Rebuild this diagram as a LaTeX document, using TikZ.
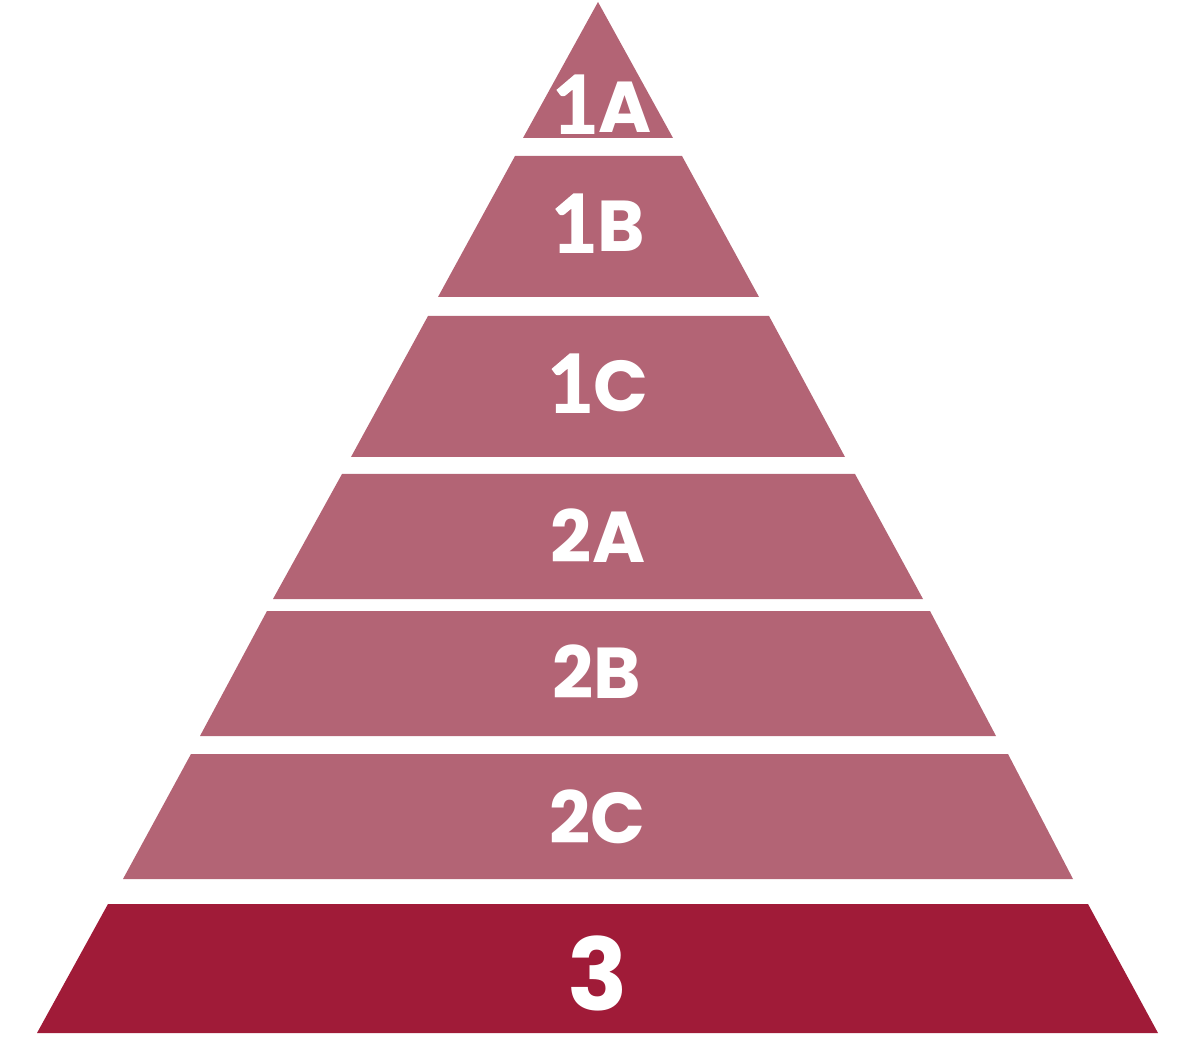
\documentclass[tikz,border=0pt]{standalone}
\usepackage{fontspec}
\setmainfont{Poppins}
\newfontfamily\onefont{Lato}[BoldFeatures={FakeBold=2}]
\definecolor{lightlayer}{RGB}{179,100,117}
\definecolor{darklayer}{RGB}{160,27,56}
\newcommand{\footone}{{\onefont\fontsize{80}{80}\selectfont\bfseries 1}}
\begin{document}
\begin{tikzpicture}[x=1pt,y=-1pt,
  layer/.style={fill=lightlayer,draw=none},
  baselayer/.style={fill=darklayer,draw=none},
  lbl/.style={text=white,font=\fontsize{72}{72}\selectfont\bfseries,anchor=base,inner sep=0pt},
  biglbl/.style={text=white,font=\fontsize{100}{100}\selectfont\bfseries,anchor=base,inner sep=0pt}]
\useasboundingbox (0,0) rectangle (1200,1040);
\fill[layer] (598,2) -- (673,138) -- (523,138) -- cycle;
\fill[layer] (515,156) -- (682,156) -- (759,297) -- (438,297) -- cycle;
\fill[layer] (428,316) -- (769,316) -- (845,457) -- (351,457) -- cycle;
\fill[layer] (342,474) -- (855,474) -- (923,599) -- (273,599) -- cycle;
\fill[layer] (267,611) -- (930,611) -- (996,736) -- (200,736) -- cycle;
\fill[layer] (191,754) -- (1008,754) -- (1073,879) -- (123,879) -- cycle;
\fill[baselayer] (108,904) -- (1088,904) -- (1158,1033) -- (37,1033) -- cycle;
\node[lbl] (l1a) at (602,133) {\footone A};
\node[lbl] (l1b) at (598,252) {\footone B};
\node[lbl] (l1c) at (598,412) {\footone C};
\node[lbl] (l2a) at (598,562) {2A};
\node[lbl] (l2b) at (597,698) {2B};
\node[lbl] (l2c) at (597,843) {2C};
\node[biglbl] (l3) at (598,1010) {3};
\end{tikzpicture}
\end{document}
